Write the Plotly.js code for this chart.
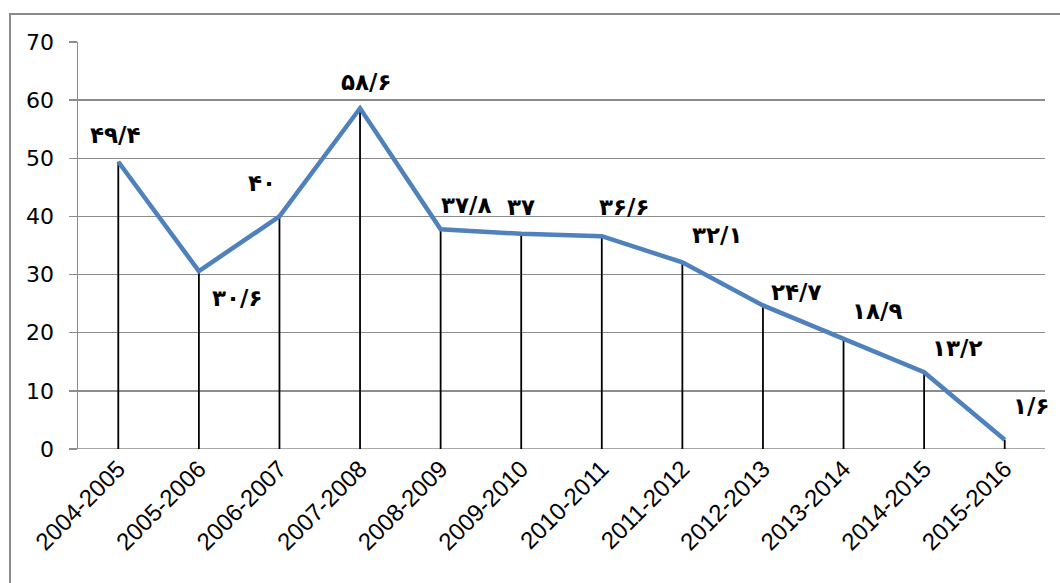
<!DOCTYPE html>
<html><head><meta charset="utf-8">
<script src="https://cdn.plot.ly/plotly-3.0.1.min.js"></script>
<style>
html,body{margin:0;padding:0;background:#fff;}
#frame{position:absolute;left:9px;top:13px;width:1200px;height:700px;border-left:2px solid #8c8c8c;border-top:2px solid #8c8c8c;box-sizing:border-box;pointer-events:none;z-index:5;}
#chart{width:1060px;height:583px;}
</style></head>
<body>
<div id="frame"></div>
<div id="chart"></div>
<script>
const categories = ["2004-2005","2005-2006","2006-2007","2007-2008","2008-2009","2009-2010","2010-2011","2011-2012","2012-2013","2013-2014","2014-2015","2015-2016"];
const values = [49.4, 30.6, 40, 58.6, 37.8, 37, 36.6, 32.1, 24.7, 18.9, 13.2, 1.6];
const labels = ["۴۹/۴","۳۰/۶","۴۰","۵۸/۶","۳۷/۸","۳۷","۳۶/۶","۳۲/۱","۲۴/۷","۱۸/۹","۱۳/۲","۱/۶"];
const yTicks = [0,10,20,30,40,50,60,70];

// label offsets in pixels (style only)
const labelShiftX = [-3, 39, -17, 6, 26, 0, 23, 35, 34, 34, 33, 26];
const labelShiftY = [27, -27, 33, 26, 24, 27, 29, 27, 13, 28, 24, 34];

const dropX = [], dropY = [];
categories.forEach((c, i) => { dropX.push(c, c, null); dropY.push(values[i], 0, null); });

const traces = [
  {x: dropX, y: dropY, mode: 'lines', line: {color: '#000', width: 1.8}, hoverinfo: 'skip', showlegend: false},
  {x: categories, y: values, mode: 'lines', line: {color: '#4F81BD', width: 4.5}, showlegend: false}
];

const annotations = categories.map((c, i) => ({
  x: c, y: values[i], xref: 'x', yref: 'y', text: '<b>' + labels[i] + '</b>', showarrow: false,
  xshift: labelShiftX[i], yshift: labelShiftY[i],
  font: {family: 'DejaVu Sans', size: 23, color: '#000'}
}));

const layout = {
  width: 1060, height: 583,
  margin: {l: 78, r: 15, t: 42, b: 134},
  paper_bgcolor: '#fff', plot_bgcolor: '#fff',
  showlegend: false,
  xaxis: {
    type: 'category', categoryarray: categories,
    range: [-0.5, categories.length - 0.5],
    showgrid: false, zeroline: false, showline: false,
    ticks: '', tickangle: -45,
    tickfont: {family: 'Liberation Sans', size: 24, color: '#000'}
  },
  yaxis: {
    range: [0, 70], tickvals: yTicks, ticktext: yTicks.map(String),
    showgrid: true, gridcolor: '#8c8c8c', gridwidth: 1.5,
    zeroline: false, showline: true, linecolor: '#8c8c8c', linewidth: 1.5,
    ticks: 'outside', ticklen: 8, tickcolor: '#8c8c8c', tickwidth: 1.5,
    ticklabelstandoff: 10,
    tickfont: {family: 'DejaVu Sans', size: 22, color: '#000'}
  },
  shapes: [{type: 'line', xref: 'paper', yref: 'y', x0: 0, x1: 1, y0: 0, y1: 0, line: {color: '#8c8c8c', width: 1.5}, layer: 'below'}],
  annotations: annotations
};

Plotly.newPlot('chart', traces, layout, {displayModeBar: false, staticPlot: true});
</script>
</body></html>
